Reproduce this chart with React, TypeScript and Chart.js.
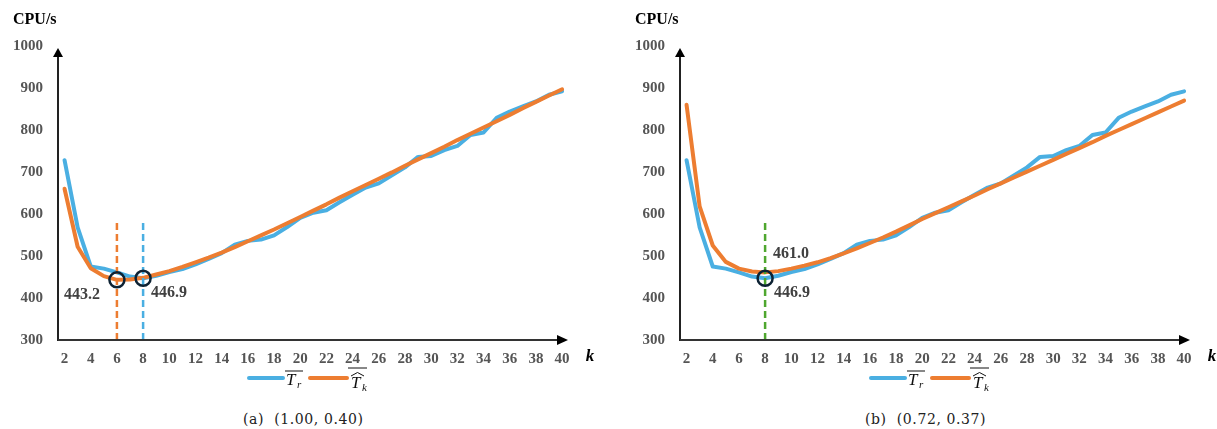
import React, { useEffect, useRef } from "react";
import { Chart, registerables } from "chart.js";

Chart.register(...registerables);

// Number of clusters k on the horizontal axis
const kValues = [
  2, 3, 4, 5, 6, 7, 8, 9, 10, 11, 12, 13, 14, 15, 16, 17, 18, 19, 20, 21,
  22, 23, 24, 25, 26, 27, 28, 29, 30, 31, 32, 33, 34, 35, 36, 37, 38, 39, 40,
];
const xTickValues = [
  2, 4, 6, 8, 10, 12, 14, 16, 18, 20, 22, 24, 26, 28, 30, 32, 34, 36, 38, 40,
];
const yTickValues = [300, 400, 500, 600, 700, 800, 900, 1000];

// Measured mean run time  T̄_r  (CPU seconds)
const trMean = [
  728, 568, 475, 470, 461, 451, 446.9, 453, 462, 469, 480, 493, 507, 527, 536,
  539, 549, 569, 591, 603, 609, 628, 646, 663, 673, 692, 711, 736, 738, 752,
  762, 788, 794, 829, 844, 856, 868, 884, 892,
];

// Estimated run time  T̂_k  for parameter set (a) (1.00, 0.40)
const tkHatA = [
  660, 522, 471, 452, 443.2, 444, 448, 456, 464, 474, 485, 496, 508, 521, 535,
  549, 563, 578, 593, 608, 623, 639, 654, 669, 684, 699, 715, 730, 745, 760,
  776, 791, 806, 821, 836, 852, 867, 882, 897,
];

// Estimated run time  T̂_k  for parameter set (b) (0.72, 0.37)
const tkHatB = [
  860, 618, 525, 486, 470, 463, 461.0, 464, 470, 477, 485, 495, 506, 518, 531,
  544, 558, 573, 588, 602, 616, 630, 644, 659, 673, 687, 701, 715, 729, 743,
  757, 771, 786, 800, 814, 828, 842, 856, 870,
];

// Upper end of the dashed guide lines marking the optimum k
const guideTop = 582;

const BLUE = "#4aafe2";
const ORANGE = "#ed7d31";
const GREEN = "#4fa72f";
const CIRCLE = "#0d2233";
const TICK_GRAY = "#555555";
const LABEL_GRAY = "#404040";
const SERIF = "'Liberation Serif', 'Times New Roman', serif";

const valueAt = (series: number[], k: number) => series[kValues.indexOf(k)];

type Marker = { k: number; series: number[] };
// A value label shows series(k) and sits next to markers[marker]
type ValueLabel = { marker: number; series: number[]; dx: number; dy: number; align: CanvasTextAlign };

type Panel = {
  width: number;
  tkHat: number[];
  guides: { k: number; color: string }[];
  markers: Marker[];
  labels: ValueLabel[];
};

function drawLegend(ctx: CanvasRenderingContext2D, left: number) {
  const y = 378;
  ctx.save();
  ctx.lineCap = "round";
  ctx.lineWidth = 4;
  // T̄_r entry
  ctx.strokeStyle = BLUE;
  ctx.beginPath();
  ctx.moveTo(left + 191, y);
  ctx.lineTo(left + 225, y);
  ctx.stroke();
  ctx.fillStyle = "#111";
  ctx.textBaseline = "alphabetic";
  ctx.textAlign = "left";
  ctx.font = `italic 17px ${SERIF}`;
  ctx.fillText("T", left + 228, 385);
  ctx.font = `italic 11px ${SERIF}`;
  ctx.fillText("r", left + 239, 388);
  ctx.lineCap = "butt";
  ctx.lineWidth = 1;
  ctx.strokeStyle = "#111";
  ctx.beginPath();
  ctx.moveTo(left + 227, 371);
  ctx.lineTo(left + 245, 371);
  ctx.stroke();

  // T̂_k entry
  ctx.lineCap = "round";
  ctx.lineWidth = 4;
  ctx.strokeStyle = ORANGE;
  ctx.beginPath();
  ctx.moveTo(left + 252, y);
  ctx.lineTo(left + 289, y);
  ctx.stroke();
  ctx.font = `italic 17px ${SERIF}`;
  ctx.fillText("T", left + 293, 388);
  ctx.font = `italic 11px ${SERIF}`;
  ctx.fillText("k", left + 304, 391);
  ctx.lineCap = "butt";
  ctx.lineWidth = 1;
  ctx.strokeStyle = "#111";
  ctx.beginPath();
  ctx.moveTo(left + 293, 376);
  ctx.lineTo(left + 299.5, 372.5);
  ctx.lineTo(left + 306, 376);
  ctx.stroke();
  ctx.beginPath();
  ctx.moveTo(left + 290, 368);
  ctx.lineTo(left + 309, 368);
  ctx.stroke();
  ctx.restore();
}

function makeOverlay(panel: Panel) {
  return {
    id: "axesAndNotes",
    afterDraw(chart: Chart) {
      const { ctx, chartArea } = chart;
      const xs = chart.scales.x;
      const ys = chart.scales.y;
      const { left, right, top, bottom } = chartArea;
      ctx.save();

      // axes with arrow heads
      ctx.lineWidth = 2;
      ctx.strokeStyle = "#222";
      ctx.fillStyle = "#000";
      ctx.beginPath();
      ctx.moveTo(left, bottom + 1);
      ctx.lineTo(left, top + 10);
      ctx.stroke();
      ctx.beginPath();
      ctx.moveTo(left, top + 2);
      ctx.lineTo(left - 5, top + 11);
      ctx.lineTo(left + 5, top + 11);
      ctx.closePath();
      ctx.fill();
      ctx.strokeStyle = "#333";
      ctx.beginPath();
      ctx.moveTo(left, bottom);
      ctx.lineTo(right - 9, bottom);
      ctx.stroke();
      ctx.beginPath();
      ctx.moveTo(right, bottom);
      ctx.lineTo(right - 11, bottom - 5);
      ctx.lineTo(right - 11, bottom + 5);
      ctx.closePath();
      ctx.fill();

      // axis titles
      ctx.fillStyle = "#000";
      ctx.textBaseline = "middle";
      ctx.textAlign = "left";
      ctx.font = `bold 16px ${SERIF}`;
      ctx.fillText("CPU/s", left - 45, 20);
      ctx.textAlign = "center";
      ctx.font = `italic bold 17px ${SERIF}`;
      ctx.fillText("k", right + 22, 357);

      // value labels at the optima
      ctx.fillStyle = LABEL_GRAY;
      ctx.font = `bold 16px ${SERIF}`;
      for (const l of panel.labels) {
        const m = panel.markers[l.marker];
        const px = xs.getPixelForValue(m.k);
        const py = ys.getPixelForValue(valueAt(m.series, m.k));
        ctx.textAlign = l.align;
        ctx.fillText(valueAt(l.series, m.k).toFixed(1), px + l.dx, py + l.dy);
      }

      drawLegend(ctx, left);
      ctx.restore();
    },
  };
}

function buildConfig(panel: Panel): any {
  const toPoints = (series: number[]) => kValues.map((k, i) => ({ x: k, y: series[i] }));
  const guideSets = panel.guides.map((g) => ({
    data: [
      { x: g.k, y: yTickValues[0] },
      { x: g.k, y: guideTop },
    ],
    borderColor: g.color,
    borderWidth: 2.5,
    borderDash: [7, 4],
    pointRadius: 0,
    order: 1,
  }));
  return {
    type: "line",
    data: {
      datasets: [
        {
          data: panel.markers.map((m) => ({ x: m.k, y: valueAt(m.series, m.k) })),
          showLine: false,
          pointRadius: 7.5,
          pointHoverRadius: 7.5,
          pointBorderWidth: 2.5,
          pointBorderColor: CIRCLE,
          pointBackgroundColor: "rgba(0,0,0,0)",
          order: 0,
        },
        ...guideSets,
        {
          data: toPoints(panel.tkHat),
          borderColor: ORANGE,
          borderWidth: 4,
          pointRadius: 0,
          tension: 0,
          borderJoinStyle: "round",
          borderCapStyle: "round",
          order: 2,
        },
        {
          data: toPoints(trMean),
          borderColor: BLUE,
          borderWidth: 4,
          pointRadius: 0,
          tension: 0,
          borderJoinStyle: "round",
          borderCapStyle: "round",
          order: 3,
        },
      ],
    },
    options: {
      responsive: false,
      animation: false,
      events: [],
      layout: { padding: { left: 8, top: 46, right: panel.width - 568, bottom: 20 } },
      plugins: { legend: { display: false }, tooltip: { enabled: false } },
      scales: {
        x: {
          type: "linear",
          min: 1.5,
          max: 40.45,
          grid: { display: false, drawTicks: false },
          border: { display: false },
          afterBuildTicks: (s: any) => {
            s.ticks = xTickValues.map((v) => ({ value: v }));
          },
          afterFit: (s: any) => {
            s.height = 40;
          },
          ticks: {
            autoSkip: false,
            maxRotation: 0,
            padding: 10,
            color: TICK_GRAY,
            font: { family: SERIF, size: 15, weight: "bold" },
            callback: (v: number) => String(v),
          },
        },
        y: {
          min: yTickValues[0],
          max: yTickValues[yTickValues.length - 1],
          grid: { display: false, drawTicks: false },
          border: { display: false },
          afterBuildTicks: (s: any) => {
            s.ticks = yTickValues.map((v) => ({ value: v }));
          },
          afterFit: (s: any) => {
            s.width = 50;
          },
          ticks: {
            padding: 15,
            color: TICK_GRAY,
            font: { family: SERIF, size: 15, weight: "bold" },
            callback: (v: number) => String(v),
          },
        },
      },
    },
    plugins: [makeOverlay(panel)],
  };
}

function LineChartPanel({ panel, height }: { panel: Panel; height: number }) {
  const ref = useRef<HTMLCanvasElement | null>(null);
  useEffect(() => {
    if (!ref.current) return;
    const chart = new Chart(ref.current, buildConfig(panel));
    return () => chart.destroy();
  }, [panel]);
  return (
    <canvas
      ref={ref}
      width={panel.width}
      height={height}
      style={{ width: panel.width, height, display: "block" }}
    />
  );
}

const panelA: Panel = {
  width: 600,
  tkHat: tkHatA,
  guides: [
    { k: 6, color: ORANGE },
    { k: 8, color: BLUE },
  ],
  markers: [
    { k: 6, series: tkHatA },
    { k: 8, series: trMean },
  ],
  labels: [
    { marker: 0, series: tkHatA, dx: -17, dy: 15, align: "right" },
    { marker: 1, series: trMean, dx: 8, dy: 15, align: "left" },
  ],
};

const panelB: Panel = {
  width: 595,
  tkHat: tkHatB,
  guides: [{ k: 8, color: GREEN }],
  markers: [{ k: 8, series: trMean }],
  labels: [
    { marker: 0, series: tkHatB, dx: 8, dy: -24, align: "left" },
    { marker: 0, series: trMean, dx: 9, dy: 15, align: "left" },
  ],
};

const captionStyle: React.CSSProperties = {
  position: "absolute",
  top: 410,
  fontFamily: "'DejaVu Serif', serif",
  fontSize: 14,
  letterSpacing: 0.6,
  color: "#222",
  whiteSpace: "pre",
  lineHeight: "18px",
};

export default function App() {
  return (
    <div style={{ position: "absolute", left: 0, top: 0, width: 1217, height: 429, background: "#fff" }}>
      <div style={{ position: "absolute", left: 0, top: 0 }}>
        <LineChartPanel panel={panelA} height={400} />
      </div>
      <div style={{ position: "absolute", left: 622, top: 0 }}>
        <LineChartPanel panel={panelB} height={400} />
      </div>
      <div style={{ ...captionStyle, left: 243 }}>(a)  (1.00, 0.40)</div>
      <div style={{ ...captionStyle, left: 865 }}>(b)  (0.72, 0.37)</div>
    </div>
  );
}
